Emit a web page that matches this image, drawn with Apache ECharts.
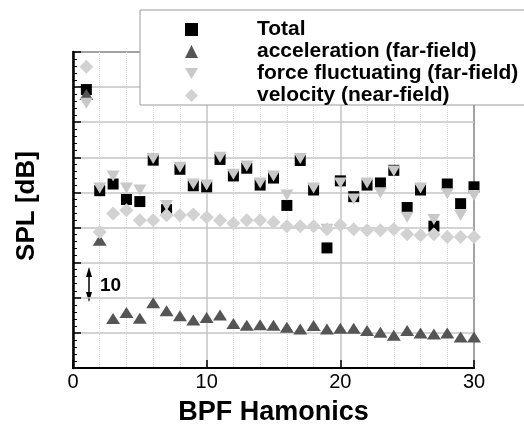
<!DOCTYPE html>
<html>
<head>
<meta charset="utf-8">
<script src="https://cdn.jsdelivr.net/npm/echarts@6/dist/echarts.min.js"></script>
<style>
  html, body { margin: 0; padding: 0; background: #fff; }
  #chart { width: 524px; height: 431px; }
</style>
</head>
<body>
<div id="chart"></div>
<script>
var harmonics = [1, 2, 3, 4, 5, 6, 7, 8, 9, 10, 11, 12, 13, 14, 15,
                 16, 17, 18, 19, 20, 21, 22, 23, 24, 25, 26, 27, 28, 29, 30];
var total = [79.3, 50.5, 52.4, 48.0, 47.4, 59.2, 45.1, 56.6, 51.9, 51.6,
             59.4, 54.7, 56.9, 52.1, 54.1, 46.3, 59.1, 50.7, 34.2, 53.3,
             48.8, 52.1, 52.7, 56.3, 45.7, 50.7, 40.4, 52.4, 46.8, 51.6];
var acceleration = [77.9, 36.4, 14.1, 15.8, 14.2, 18.6, 16.3, 14.9, 13.7, 14.4,
                    15.1, 12.7, 12.2, 12.3, 12.2, 11.6, 11.1, 12.1, 11.1, 11.3,
                    11.3, 10.7, 10.2, 9.3, 10.7, 10.0, 9.7, 10.0, 8.8, 8.8];
var force = [75.4, 51.3, 54.7, 51.3, 50.7, 59.7, 46.3, 57.2, 52.4, 52.1,
             60.0, 55.2, 57.5, 52.7, 54.7, 49.3, 59.7, 51.3, 39.5, 52.7,
             48.1, 52.7, 49.9, 56.1, 42.9, 51.3, 42.3, 49.6, 43.5, 49.1];
var velocity = [85.8, 38.7, 44.0, 44.9, 42.1, 42.1, 43.5, 43.5, 43.7, 42.9,
                42.1, 41.2, 42.1, 42.1, 41.5, 40.4, 40.4, 40.4, 39.5, 40.7,
                39.5, 39.2, 39.2, 39.5, 38.1, 37.8, 38.1, 37.3, 37.3, 37.3];
var xTicks = [0, 10, 20, 30];

var FONT = "'Liberation Sans', Arial, sans-serif";
var DOWN_TRIANGLE = 'path://M0,0 L13,0 L6.5,11 Z';

function pairs(vals) {
  return harmonics.map(function (h, i) { return [h, vals[i]]; });
}

var chart = echarts.init(document.getElementById('chart'));
var option = {
  animation: false,
  backgroundColor: '#fff',
  grid: {
    left: 73, right: 50, top: 52, bottom: 58,
    show: true,
    borderColor: '#000',
    borderWidth: 1.5
  },
  legend: {
    orient: 'vertical',
    left: 185,
    top: 19,
    itemWidth: 13,
    itemHeight: 13,
    itemGap: 1,
    padding: 0,
    textStyle: {
      fontFamily: FONT, fontWeight: 'bold', fontSize: 21, color: '#000',
      padding: [0, 0, 0, 54]
    },
    data: [
      { name: 'Total' },
      { name: 'acceleration (far-field)' },
      { name: 'force fluctuating (far-field)', icon: DOWN_TRIANGLE },
      { name: 'velocity (near-field)' }
    ]
  },
  xAxis: {
    type: 'value',
    min: 0,
    max: 30,
    interval: 10,
    name: 'BPF Hamonics',
    nameLocation: 'middle',
    nameGap: 31,
    nameTextStyle: { fontFamily: FONT, fontWeight: 'bold', fontSize: 27, color: '#000' },
    axisLine: { lineStyle: { color: '#000', width: 2 } },
    axisTick: { inside: true, length: 8, lineStyle: { color: '#000', width: 1.5 } },
    axisLabel: {
      fontFamily: FONT, fontSize: 20, color: '#000', margin: 4,
      formatter: function (v) { return xTicks.indexOf(v) >= 0 ? String(v) : ''; }
    },
    splitLine: { show: true, lineStyle: { color: '#c4c4c4', width: 1.5 } },
    minorTick: { show: false, splitNumber: 5 },
    minorSplitLine: { show: true, lineStyle: { color: '#d8d8d8', width: 1, type: 'dotted' } }
  },
  yAxis: {
    type: 'value',
    min: 0,
    max: 90,
    interval: 10,
    name: 'SPL [dB]',
    nameLocation: 'middle',
    nameGap: 33,
    nameTextStyle: { fontFamily: FONT, fontWeight: 'bold', fontSize: 26, color: '#000', padding: [0, 0, 0, 8] },
    axisLine: { show: true, lineStyle: { color: '#000', width: 2.5 } },
    axisTick: { show: true, inside: true, length: 8, lineStyle: { color: '#000', width: 1.5 } },
    minorTick: { show: true, splitNumber: 5, length: 4, lineStyle: { color: '#000', width: 1 } },
    axisLabel: { show: false },
    splitLine: { show: true, lineStyle: { color: '#c4c4c4', width: 1.5 } }
  },
  graphic: [
    {
      type: 'rect', z: 3,
      shape: { x: 140, y: 10, width: 400, height: 95 },
      style: { fill: '#fff', stroke: '#9a9a9a', lineWidth: 1 }
    },
    {
      type: 'group', z: 3,
      children: [
        { type: 'line', shape: { x1: 89, y1: 272, x2: 89, y2: 297 }, style: { stroke: '#000', lineWidth: 1.5 } },
        { type: 'polygon', shape: { points: [[89, 267], [86, 277], [92, 277]] }, style: { fill: '#000' } },
        { type: 'polygon', shape: { points: [[89, 302], [86, 292], [92, 292]] }, style: { fill: '#000' } },
        { type: 'text', x: 100, y: 286, style: { text: '10', font: 'bold 19px ' + FONT, fill: '#000', verticalAlign: 'middle' } }
      ]
    }
  ],
  series: [
    {
      name: 'Total', type: 'scatter', symbol: 'rect', symbolSize: 11,
      itemStyle: { color: '#000', opacity: 1 },
      data: pairs(total)
    },
    {
      name: 'acceleration (far-field)', type: 'scatter', symbol: 'triangle', symbolSize: [14, 11],
      itemStyle: { color: '#555', opacity: 1 },
      data: pairs(acceleration)
    },
    {
      name: 'force fluctuating (far-field)', type: 'scatter', symbol: 'triangle', symbolSize: [13, 11],
      symbolRotate: 180,
      itemStyle: { color: '#c8c8c8', opacity: 1 },
      data: pairs(force)
    },
    {
      name: 'velocity (near-field)', type: 'scatter', symbol: 'diamond', symbolSize: 14,
      itemStyle: { color: '#d2d2d2', opacity: 1 },
      data: pairs(velocity)
    }
  ]
};
chart.setOption(option);
</script>
</body>
</html>
